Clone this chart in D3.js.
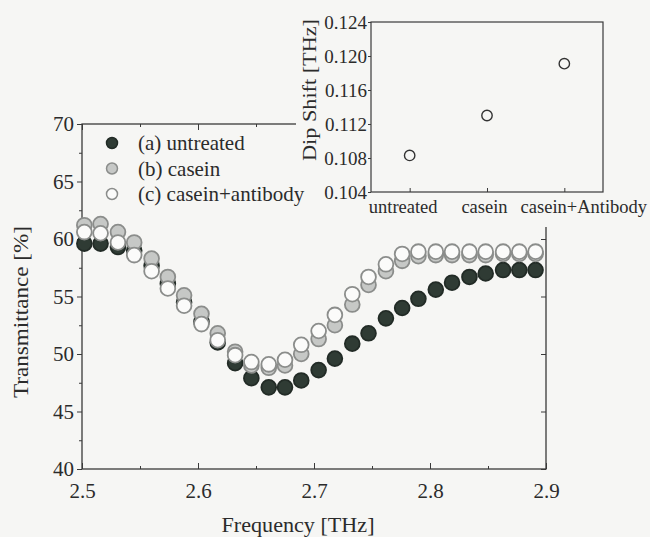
<!DOCTYPE html>
<html>
<head>
<meta charset="utf-8">
<script src="https://cdn.jsdelivr.net/npm/d3@7"></script>
<style>
  body { margin: 0; background: #f6f6f4; }
  svg { display: block; }
  .domain { display: none; }
</style>
</head>
<body>
<div id="image"></div>
<script>
// frequency points (THz)
var freq = [2.502, 2.516, 2.531, 2.545, 2.560, 2.574, 2.588, 2.603, 2.617, 2.632,
            2.646, 2.661, 2.675, 2.689, 2.704, 2.718, 2.733, 2.747, 2.762, 2.776,
            2.790, 2.805, 2.819, 2.834, 2.848, 2.863, 2.877, 2.891];

// transmittance [%]
var untreated = [59.6, 59.6, 59.3, 59.0, 57.7, 56.1, 54.5, 52.8, 51.0, 49.2,
                 47.9, 47.1, 47.1, 47.7, 48.6, 49.6, 50.9, 51.8, 53.1, 54.0,
                 54.8, 55.6, 56.2, 56.7, 57.0, 57.3, 57.3, 57.3];
var casein = [61.2, 61.3, 60.6, 59.7, 58.3, 56.7, 55.1, 53.5, 51.8, 50.2,
              49.0, 48.8, 49.0, 50.0, 51.3, 52.5, 54.3, 56.0, 57.2, 58.1,
              58.5, 58.6, 58.6, 58.6, 58.6, 58.7, 58.7, 58.7];
var caseinAntibody = [60.6, 60.5, 59.7, 58.6, 57.2, 55.7, 54.2, 52.6, 51.2, 49.9,
                      49.3, 49.1, 49.5, 50.8, 52.0, 53.4, 55.2, 56.7, 57.8, 58.7,
                      58.9, 58.9, 58.9, 58.9, 58.9, 58.9, 58.9, 58.9];

var seriesNames = ["(a) untreated", "(b) casein", "(c) casein+antibody"];

var xTicks = [2.5, 2.6, 2.7, 2.8, 2.9];
var xMinor = [2.55, 2.65, 2.75, 2.85];
var yTicks = [40, 45, 50, 55, 60, 65, 70];
var yMinor = [42.5, 47.5, 52.5, 57.5, 62.5, 67.5];

// inset : dip shift
var insetCats = ["untreated", "casein", "casein+Antibody"];
var dipShift = [0.1083, 0.1130, 0.1191];
var insetTicks = [0.104, 0.108, 0.112, 0.116, 0.120, 0.124];

var W = 650, H = 537;
var serif = '"Liberation Serif", "DejaVu Serif", serif';
var textCol = "#2b2b2b";
var axisCol = "#3a3a3a";

var svg = d3.select("#image").append("svg").attr("width", W).attr("height", H)
  .style("font-family", serif);

var styles = [
  {fill: "#2f3b34", stroke: "#222b26"},
  {fill: "#c6c8c6", stroke: "#8b8d8b"},
  {fill: "#fbfbfa", stroke: "#8b8d8b"}
];

var x = d3.scaleLinear().domain([2.5, 2.9]).range([82, 546]);
var y = d3.scaleLinear().domain([40, 70]).range([469, 124]);

function styleTicks(g, size) {
  g.attr("font-family", serif);
  g.selectAll("text").style("font-family", serif).style("font-size", size + "px")
    .attr("fill", textCol);
  g.selectAll(".tick line").attr("stroke", axisCol);
}

// bottom axis (ticks inward)
svg.append("g").attr("transform", "translate(0," + y(40) + ")")
  .call(d3.axisBottom(x).tickValues(xTicks).tickSize(-6).tickPadding(14)
        .tickFormat(d3.format(".1f")))
  .call(styleTicks, 21);
svg.append("g").attr("transform", "translate(0," + y(40) + ")")
  .call(d3.axisBottom(x).tickValues(xMinor).tickSize(-3).tickFormat(""))
  .call(styleTicks, 21);

// top axis (ticks inward)
svg.append("g").attr("transform", "translate(0," + y(70) + ")")
  .call(d3.axisTop(x).tickValues(xTicks).tickSize(-6).tickFormat(""))
  .call(styleTicks, 21);
svg.append("g").attr("transform", "translate(0," + y(70) + ")")
  .call(d3.axisTop(x).tickValues(xMinor).tickSize(-3).tickFormat(""))
  .call(styleTicks, 21);

// left axis
svg.append("g").attr("transform", "translate(" + x(2.5) + ",0)")
  .call(d3.axisLeft(y).tickValues(yTicks).tickSize(5).tickPadding(3))
  .call(styleTicks, 21);
svg.append("g").attr("transform", "translate(" + x(2.5) + ",0)")
  .call(d3.axisLeft(y).tickValues(yMinor).tickSize(3).tickFormat(""))
  .call(styleTicks, 21);

// right axis
svg.append("g").attr("transform", "translate(" + x(2.9) + ",0)")
  .call(d3.axisRight(y).tickValues(yTicks).tickSize(-5).tickFormat(""))
  .call(styleTicks, 21);

// frame
svg.append("rect")
  .attr("x", x(2.5)).attr("y", y(70))
  .attr("width", x(2.9) - x(2.5)).attr("height", y(40) - y(70))
  .attr("fill", "none").attr("stroke", axisCol).attr("stroke-width", 1.3);

// axis titles
svg.append("text")
  .attr("x", 298).attr("y", 532)
  .attr("text-anchor", "middle").style("font-size", "21px").attr("fill", textCol)
  .attr("textLength", 153).attr("lengthAdjust", "spacingAndGlyphs")
  .text("Frequency [THz]");
svg.append("text")
  .attr("transform", "translate(28,312) rotate(-90)")
  .attr("text-anchor", "middle").style("font-size", "21px").attr("fill", textCol)
  .attr("textLength", 172).attr("lengthAdjust", "spacingAndGlyphs")
  .text("Transmittance [%]");

// data points
var allSeries = [untreated, casein, caseinAntibody];
allSeries.forEach(function (s, k) {
  svg.append("g").selectAll("circle")
    .data(s)
    .enter().append("circle")
    .attr("cx", function (d, i) { return x(freq[i]); })
    .attr("cy", function (d) { return y(d); })
    .attr("r", 7.4)
    .attr("fill", styles[k].fill)
    .attr("stroke", styles[k].stroke)
    .attr("stroke-width", 1.8);
});

// inset background (covers top-right of main frame)
svg.append("rect")
  .attr("x", 296).attr("y", 0).attr("width", W - 296).attr("height", 227)
  .attr("fill", "#f6f6f4");

var ix = d3.scalePoint().domain(insetCats).range([371, 603]).padding(0.5);
var iy = d3.scaleLinear().domain([0.104, 0.124]).range([192, 22]);

svg.append("g").attr("transform", "translate(371,0)")
  .call(d3.axisLeft(iy).tickValues(insetTicks).tickSize(3).tickPadding(1)
        .tickFormat(d3.format(".3f")))
  .call(styleTicks, 19);

var gix = svg.append("g").attr("transform", "translate(0,192)")
  .call(d3.axisBottom(ix).tickSize(-4).tickPadding(7.5))
  .call(styleTicks, 18.5);
// labels sit a little off their ticks in the original
var labelShift = [-7, -3, 19];
gix.selectAll("text").attr("dx", function (d, i) { return labelShift[i]; });

svg.append("rect")
  .attr("x", 371).attr("y", 22).attr("width", 232).attr("height", 170)
  .attr("fill", "none").attr("stroke", axisCol).attr("stroke-width", 1.2);

svg.append("text")
  .attr("transform", "translate(316,90) rotate(-90)")
  .attr("text-anchor", "middle").style("font-size", "18px").attr("fill", textCol)
  .attr("textLength", 142).attr("lengthAdjust", "spacingAndGlyphs")
  .text("Dip Shift [THz]");

svg.append("g").selectAll("circle")
  .data(dipShift)
  .enter().append("circle")
  .attr("cx", function (d, i) { return ix(insetCats[i]); })
  .attr("cy", function (d) { return iy(d); })
  .attr("r", 5.2)
  .attr("fill", "none")
  .attr("stroke", "#333")
  .attr("stroke-width", 1.4);

// legend
var legend = svg.selectAll(".legend")
  .data(seriesNames)
  .enter().append("g")
  .attr("class", "legend")
  .attr("transform", function (d, i) { return "translate(112," + (143 + i * 25.5) + ")"; });

legend.append("circle")
  .attr("r", 5.5)
  .attr("fill", function (d, i) { return styles[i].fill; })
  .attr("stroke", function (d, i) { return styles[i].stroke; })
  .attr("stroke-width", 1.5);

legend.append("text")
  .attr("x", 26).attr("dy", "0.35em")
  .style("font-size", "21px").attr("fill", textCol)
  .text(function (d) { return d; });
</script>
</body>
</html>
